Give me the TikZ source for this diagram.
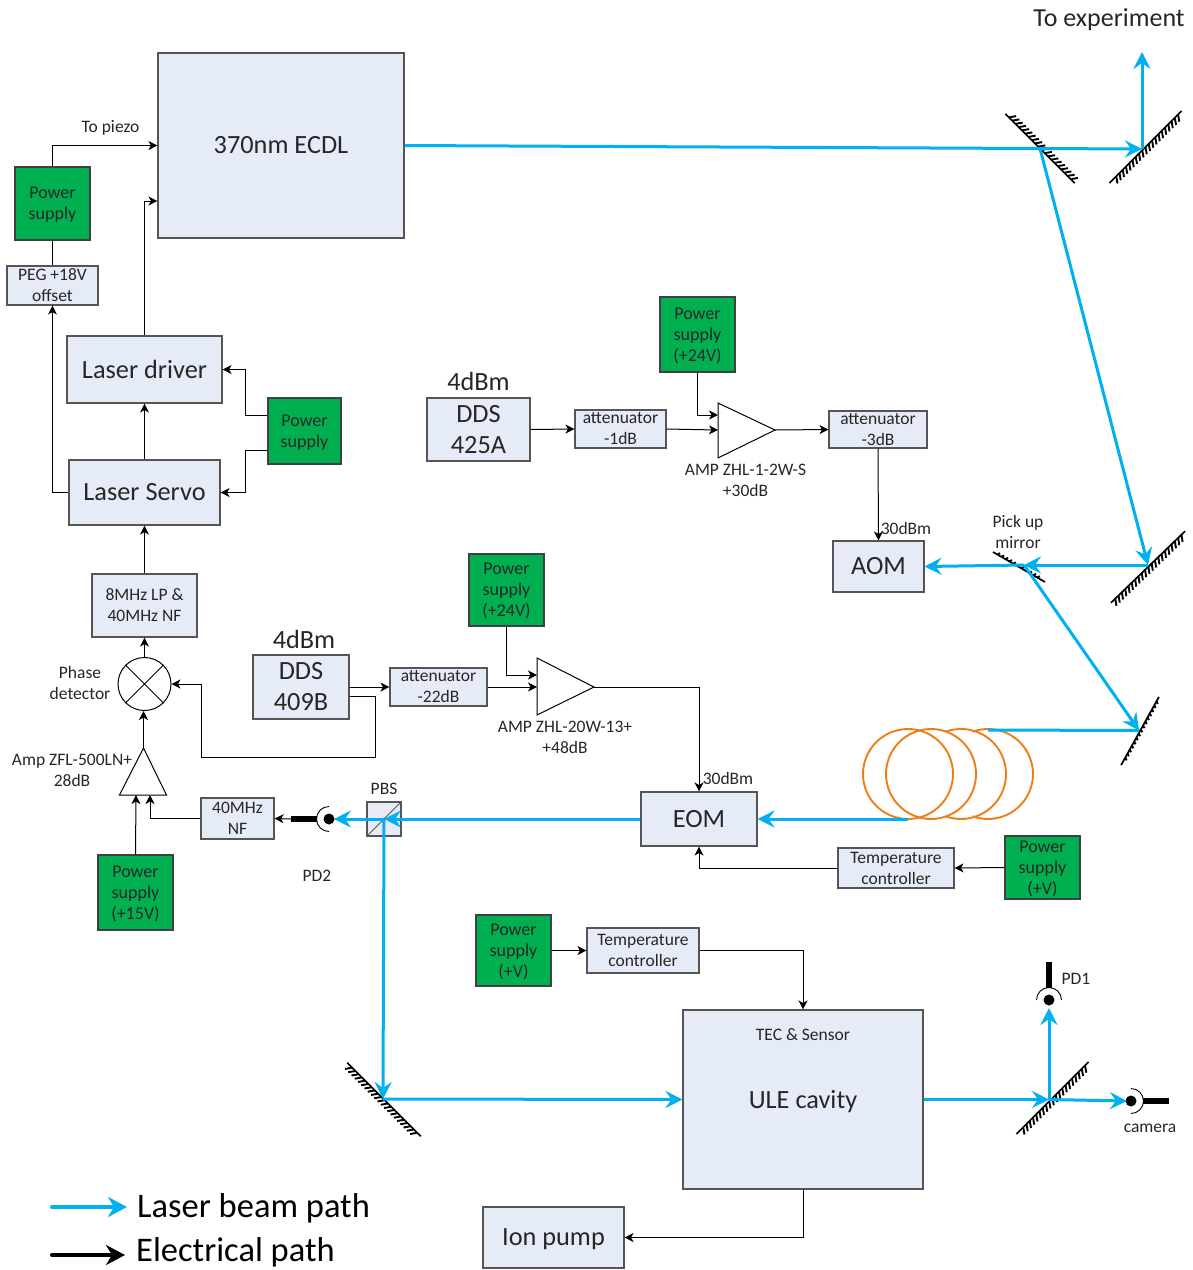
\documentclass[tikz,border=0pt]{standalone}
\usepackage{fontspec}
\setmainfont{Carlito}
\usetikzlibrary{arrows.meta,calc}
\definecolor{beamblue}{HTML}{00B0F0}
\definecolor{boxblue}{HTML}{E6ECF7}
\definecolor{boxedge}{HTML}{555555}
\definecolor{supplygreen}{HTML}{00B050}
\definecolor{fibreorange}{HTML}{ED7D15}
\newcommand{\TxtSmall}{\fontsize{17.5}{21}\selectfont}
\newcommand{\TxtMid}{\fontsize{18}{21}\selectfont}
\newcommand{\TxtBig}{\fontsize{26.3}{31}\selectfont}
\newcommand{\TxtHuge}{\fontsize{34.5}{38}\selectfont}
\tikzset{
  optbox/.style={draw=boxedge,fill=boxblue,line width=1.1pt,inner sep=0pt,align=center,text=black!85},
  supply/.style={draw=black!75,fill=supplygreen,line width=1.1pt,inner sep=0pt,align=center,font=\TxtMid,text=black!85,text depth=0pt},
  dims/.style 2 args={minimum width=#1pt,minimum height=#2pt},
  lab/.style={inner sep=0pt,align=center,font=\TxtSmall,text=black!85},
  elec/.style={line width=1pt,-{Stealth[length=9pt,width=9pt,inset=2.5pt]}},
  wire/.style={line width=1pt},
  beam/.style={color=beamblue,line width=3pt,-{Stealth[length=17pt,width=17pt,inset=6pt]}},
  beamline/.style={color=beamblue,line width=3pt},
  fibre/.style={color=fibreorange,line width=1.9pt},
  pics/mirror/.style 2 args={
    code={
      \draw[line width=1.7pt] (-#1,0) -- (#1,0);
      \pgfmathtruncatemacro{\TickN}{(2*#1-10)/4.6}
      \foreach \k in {0,...,\TickN} {
        \pgfmathsetmacro{\TickX}{-#1+5+\k*4.6}
        \draw[line width=1.9pt] (\TickX,0) -- ++(#2*0.7,-#2);
      }
    }
  },
  pics/detector/.style={
    code={
      \fill circle[radius=5.5pt];
      \draw[line width=0.9pt] (0,-12.5) arc[start angle=90,end angle=-90,radius=12.5pt];
      \draw[line width=6pt] (12,0) -- (38,0);
    }
  }
}
\begin{document}
\begin{tikzpicture}[x=1pt,y=-1pt]
  \useasboundingbox (0,0) rectangle (1193,1270);

  % boxes
  \node[optbox,dims={246}{185},font=\TxtBig] (ecdl) at (281,145.5) {370nm ECDL};
  \node[supply,dims={75}{73}] (psPiezo) at (52.5,203.5) {Power\\supply};
  \node[optbox,dims={91}{39},font=\TxtSmall] (peg) at (52.5,285.5) {PEG +18V\\offset};
  \node[optbox,dims={155}{67},font=\TxtBig] (driver) at (144.5,369.5) {Laser driver};
  \node[optbox,dims={151}{65},font=\TxtBig] (servo) at (144.5,492.5) {Laser Servo};
  \node[supply,dims={73}{66}] (psServo) at (304.5,431) {Power\\supply};
  \node[optbox,dims={105}{63},font=\TxtSmall] (lpnf) at (144.5,605.5) {8MHz LP \&\\40MHz NF};
  \node[draw,circle,line width=1pt,minimum size=53pt,inner sep=0pt] (mixer) at (144.5,684) {};
  \node[supply,dims={75}{75}] (psAmp) at (135.5,892.5) {Power\\supply\\(+15V)};
  \node[optbox,dims={73}{41},font=\TxtSmall] (nfBox) at (237.5,818.5) {40MHz\\NF};
  \node[optbox,dims={34}{34}] (pbs) at (384,819) {};
  \node[optbox,dims={96}{64},font=\TxtBig] (ddsB) at (301,687) {DDS\\409B};
  \node[optbox,dims={97}{38},font=\TxtSmall] (attB) at (438.5,687) {attenuator\\-22dB};
  \node[supply,dims={75}{72}] (psB) at (506.5,590) {Power\\supply\\(+24V)};
  \node[optbox,dims={116}{54},font=\TxtBig] (eom) at (699,819) {EOM};
  \node[optbox,dims={116}{40},font=\TxtSmall] (tcA) at (896,868) {Temperature\\controller};
  \node[supply,dims={75}{63}] (psTcA) at (1042.5,867.5) {Power\\supply\\(+V)};
  \node[supply,dims={75}{71}] (psTcB) at (513.5,950.5) {Power\\supply\\(+V)};
  \node[optbox,dims={112}{45},font=\TxtSmall] (tcB) at (643,950.5) {Temperature\\controller};
  \node[optbox,dims={240}{179},font=\TxtBig,text depth=0pt] (ule) at (803,1099.5) {ULE cavity};
  \node[optbox,dims={141}{61},font=\TxtBig,text depth=0pt] (ion) at (553.5,1237.5) {Ion pump};
  \node[optbox,dims={103}{63},font=\TxtBig] (ddsA) at (478.5,429.5) {DDS\\425A};
  \node[optbox,dims={91}{38},font=\TxtSmall] (attA) at (620.5,429) {attenuator\\-1dB};
  \node[supply,dims={75}{75}] (psA) at (697.5,334.5) {Power\\supply\\(+24V)};
  \node[optbox,dims={98}{37},font=\TxtSmall] (attC) at (878,429.5) {attenuator\\-3dB};
  \node[optbox,dims={91}{51},font=\TxtBig] (aom) at (878.5,566.5) {AOM};

  \draw[line width=1pt] (mixer.north west) -- (mixer.south east);
  \draw[line width=1pt] (mixer.north east) -- (mixer.south west);
  \draw[line width=1pt,draw=boxedge] (pbs.south west) -- (pbs.north east);

  % amplifiers
  \coordinate (ampTip) at (143.5,748);
  \coordinate (ampIn) at (150,795);
  \coordinate (ampPw) at (136,795);
  \draw[line width=1pt] (ampTip) -- (166.5,795) -- (119.5,795) -- cycle;
  \coordinate (ampATip) at (775,430);
  \coordinate (ampAIn) at (718,430);
  \coordinate (ampAPw) at (718,415);
  \draw[line width=1pt] (ampATip) -- (718,403) -- (718,458) -- cycle;
  \coordinate (ampBTip) at (594,687);
  \coordinate (ampBIn) at (537,687);
  \coordinate (ampBPw) at (537,675);
  \draw[line width=1pt] (ampBTip) -- (537,658) -- (537,715) -- cycle;

  % electrical path
  \draw[elec] (psPiezo.north) |- (ecdl.west);
  \draw[wire] (psPiezo.south) -- (peg.north);
  \draw[elec] (servo.west) -| (peg.south);
  \draw[elec] (driver.north) |- ([yshift=-55.5pt]ecdl.west);
  \draw[elec] (servo.north) -- (driver.south);
  \draw[elec] (lpnf.north) -- (servo.south);
  \draw[elec] (mixer.north) -- (lpnf.south);
  \draw[elec] (ampTip) -- (ampTip |- mixer.south);
  \draw[elec] (psAmp.north) -- (ampPw);
  \draw[elec] (nfBox.west) -| (ampIn);
  \draw[elec] ([yshift=16pt]psServo.west) -- ++(-22,0) |- (driver.east);
  \draw[elec] ([yshift=-19pt]psServo.west) -- ++(-22,0) |- (servo.east);
  \draw[elec] (ddsB.east) -- (attB.west);
  \draw[elec] ([yshift=-9pt]ddsB.east) -- ++(26,0) -- ++(0,61) -- ++(-174,0) |- (mixer.east);
  \draw[elec] (attB.east) -- (ampBIn);
  \draw[elec] (psB.south) |- (ampBPw);
  \draw[elec] (ampBTip) -| (eom.north);
  \draw[elec] (tcA.west) -| (eom.south);
  \draw[elec] (psTcA.west) -- (tcA.east);
  \draw[elec] (psTcB.east) -- (tcB.west);
  \draw[elec] (tcB.east) -| (ule.north);
  \draw[elec] (ule.south) |- (ion.east);
  \draw[elec] (ddsA.east) -- (attA.west);
  \draw[elec] (attA.east) -- (ampAIn);
  \draw[elec] (psA.south) |- (ampAPw);
  \draw[elec] (ampATip) -- (attC.west);
  \draw[elec] (attC.south) -- (aom.north);

  % mirrors
  \pic[rotate=-45] at (1040,148.5) {mirror={49}{6}};
  \pic[rotate=225] at (1145.5,147) {mirror={51}{6}};
  \pic[rotate=224] at (1148,567) {mirror={51.5}{6}};
  \pic[rotate=-30] at (1019,567) {mirror={30}{2.5}};
  \pic[rotate=241] at (1140,731) {mirror={39}{2.5}};
  \pic[rotate=135] at (384,1099.5) {mirror={52}{6}};
  \pic[rotate=225] at (1052.5,1098) {mirror={51}{6}};
  \coordinate (mirrorA) at (1040,148.5);
  \coordinate (mirrorB) at (1142,149);
  \coordinate (mirrorC) at (1148,565);
  \coordinate (mirrorPick) at (1024,565);
  \coordinate (mirrorD) at (1139,730.5);
  \coordinate (mirrorE) at (383,1099);
  \coordinate (mirrorF) at (1049,1099.5);

  % detectors
  \pic[rotate=180] at (329,819) {detector};
  \pic[rotate=90] at (1049,1000) {detector};
  \pic at (1131,1101) {detector};
  \draw[elec] (291,819) coordinate (pdOut) -- (nfBox.east);

  % fibre
  \draw[fibre] (908,774) circle[radius=45pt];
  \draw[fibre] (931,774) circle[radius=45pt];
  \draw[fibre] (945.6,731.7) arc[start angle=110,end angle=-110,radius=45pt];
  \draw[fibre] (972.6,731.7) arc[start angle=110,end angle=-110,radius=45pt];
  \coordinate (fibreIn) at (988,730);
  \coordinate (fibreOut) at (908,819);

  % laser beam path
  \coordinate (expOut) at (1142,52);
  \coordinate (pdBIn) at (334,819);
  \coordinate (pdAIn) at (1049,1008);
  \coordinate (camIn) at (1127,1101);
  \draw[beam] (ecdl.east) -- (mirrorB);
  \draw[beam] (mirrorB) -- (expOut);
  \draw[beam] (mirrorA) -- (mirrorC);
  \draw[beam] (mirrorC) -- (mirrorPick);
  \draw[beam] (mirrorPick) -- (aom.east);
  \draw[beam] (mirrorPick) -- (mirrorD);
  \draw[beamline] (mirrorD) -- (fibreIn);
  \draw[beam] (fibreOut) -- (eom.east);
  \draw[beam] (eom.west) -- (pbs.center);
  \draw[beam] (pbs.center) -- (pdBIn);
  \draw[beam] (pbs.center) -- (mirrorE);
  \draw[beam] (mirrorE) -- (ule.west);
  \draw[beam] (ule.east) -- (mirrorF);
  \draw[beam] (mirrorF) -- (pdAIn);
  \draw[beam] (mirrorF) -- (camIn);

  % labels
  \node[lab,font=\fontsize{26}{30}\selectfont] (toExp) at (1109,20) {To experiment};
  \node[lab] (toPiezo) at (110.5,127.5) {To piezo};
  \node[lab,font=\TxtBig] (dbmA) at (478.5,381) {4dBm};
  \node[lab,font=\TxtBig] (dbmB) at (304,639) {4dBm};
  \node[lab] (phase) at (80,683) {Phase\\detector};
  \node[lab] (ampLab) at (72,770) {Amp ZFL-500LN+\\28dB};
  \node[lab] (ampALab) at (745.5,480) {AMP ZHL-1-2W-S\\+30dB};
  \node[lab] (ampBLab) at (565,737) {AMP ZHL-20W-13+\\+48dB};
  \node[lab] (dbmC) at (906,528) {30dBm};
  \node[lab] (dbmD) at (728,778) {30dBm};
  \node[lab] (pickLab) at (1018,532) {Pick up\\mirror};
  \node[lab] (pbsLab) at (384,789) {PBS};
  \node[lab] (pdBLab) at (317,876) {PD2};
  \node[lab] (pdALab) at (1076,979) {PD1};
  \node[lab] (camLab) at (1150,1128) {camera};
  \node[lab] (tecLab) at (803,1035) {TEC \& Sensor};

  % legend
  \coordinate (legAa) at (52,1207);
  \coordinate (legAb) at (127,1207);
  \coordinate (legBa) at (52,1255);
  \coordinate (legBb) at (125,1255);
  \draw[color=beamblue,line width=4pt,line cap=round,-{Stealth[length=19pt,width=20pt,inset=6pt]}] (legAa) -- (legAb);
  \draw[line width=4pt,line cap=round,-{Stealth[length=19pt,width=20pt,inset=6pt]}] (legBa) -- (legBb);
  \node[inner sep=0pt,anchor=west,font=\TxtHuge] (legA) at (137,1208.5) {Laser beam path};
  \node[inner sep=0pt,anchor=west,font=\TxtHuge] (legB) at (136,1252.5) {Electrical path};
\end{tikzpicture}
\end{document}
